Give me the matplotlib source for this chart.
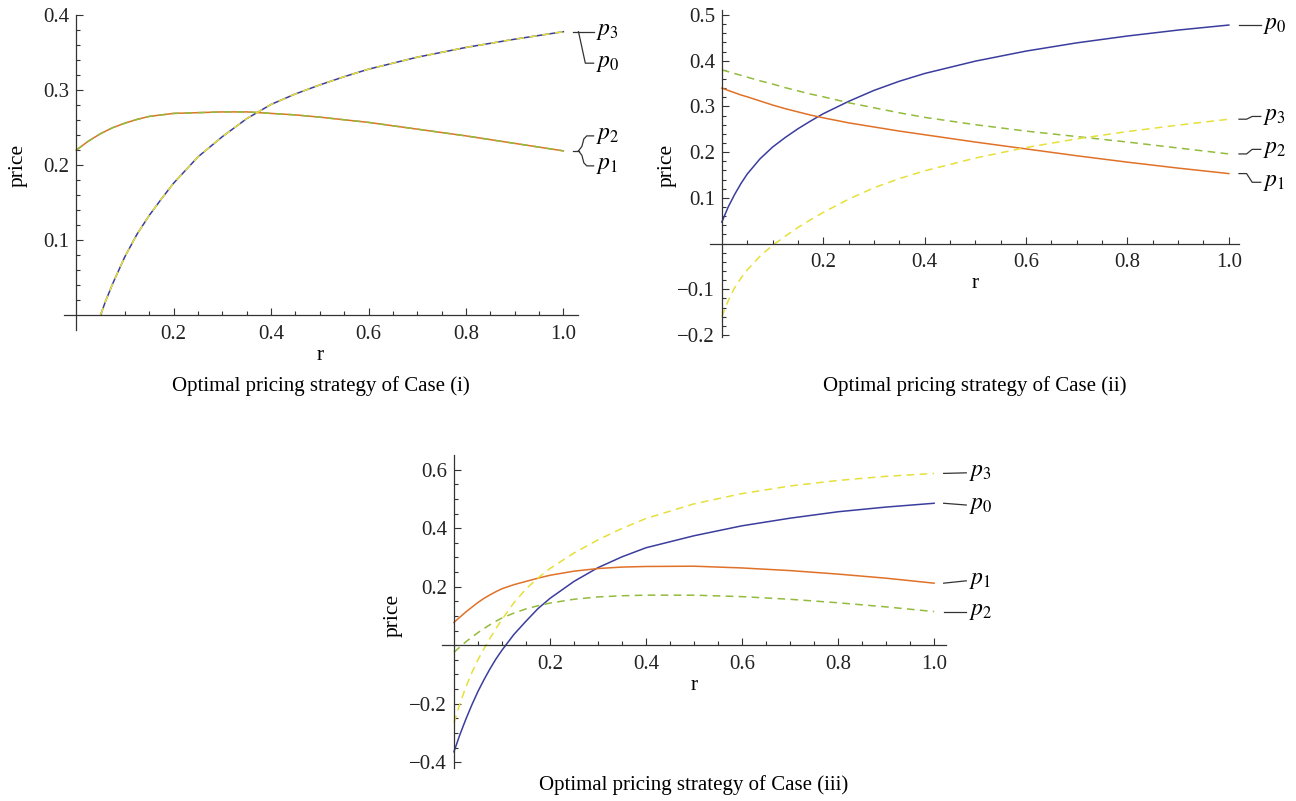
import numpy as np
import matplotlib
matplotlib.use("Agg")
import matplotlib.pyplot as plt

plt.rcParams["font.family"] = ["Liberation Serif", "DejaVu Serif"]
plt.rcParams["mathtext.fontset"] = "stix"

# --- data ---
# Case (i): p0 == p3 and p1 == p2
r1_a = [0.05, 0.06, 0.075, 0.1, 0.125, 0.15, 0.175, 0.2, 0.25, 0.3, 0.35, 0.4,
        0.45, 0.5, 0.55, 0.6, 0.7, 0.8, 0.9, 1.0]
p0_c1 = [0.0, 0.018, 0.042, 0.078, 0.108, 0.133, 0.155, 0.176, 0.211, 0.238, 0.262,
         0.281, 0.295, 0.307, 0.318, 0.328, 0.344, 0.357, 0.368, 0.378]
p3_c1 = list(p0_c1)
r1_b = [0.0, 0.025, 0.05, 0.075, 0.1, 0.125, 0.15, 0.175, 0.2, 0.25, 0.3, 0.35,
        0.4, 0.45, 0.5, 0.6, 0.7, 0.8, 0.9, 1.0]
p1_c1 = [0.22, 0.232, 0.242, 0.250, 0.256, 0.261, 0.265, 0.267, 0.269, 0.270, 0.271,
         0.271, 0.269, 0.267, 0.264, 0.257, 0.248, 0.239, 0.229, 0.219]
p2_c1 = list(p1_c1)

# Case (ii)
r2 = [0.0, 0.0125, 0.025, 0.0375, 0.05, 0.075, 0.1, 0.125, 0.15, 0.175, 0.2, 0.25,
      0.3, 0.35, 0.4, 0.5, 0.6, 0.7, 0.8, 0.9, 1.0]
p0_c2 = [0.047, 0.080, 0.107, 0.131, 0.152, 0.185, 0.211, 0.232, 0.251, 0.268, 0.284,
         0.311, 0.335, 0.355, 0.372, 0.399, 0.421, 0.439, 0.454, 0.467, 0.478]
p1_c2 = [0.340, 0.335, 0.330, 0.325, 0.321, 0.312, 0.303, 0.295, 0.288, 0.281, 0.275,
         0.264, 0.255, 0.246, 0.238, 0.222, 0.207, 0.192, 0.178, 0.165, 0.153]
p2_c2 = [0.380, 0.376, 0.372, 0.368, 0.364, 0.356, 0.349, 0.341, 0.334, 0.327, 0.321,
         0.308, 0.297, 0.286, 0.276, 0.260, 0.246, 0.234, 0.222, 0.209, 0.196]
p3_c2 = [-0.160, -0.125, -0.097, -0.076, -0.058, -0.028, -0.004, 0.016, 0.035, 0.052,
         0.068, 0.097, 0.122, 0.142, 0.159, 0.187, 0.210, 0.229, 0.245, 0.259, 0.272]

# Case (iii)
r3 = [0.0, 0.0125, 0.025, 0.0375, 0.05, 0.0625, 0.075, 0.0875, 0.1, 0.125, 0.15,
      0.175, 0.2, 0.25, 0.3, 0.35, 0.4, 0.5, 0.6, 0.7, 0.8, 0.9, 1.0]
p0_c3 = [-0.364, -0.305, -0.252, -0.203, -0.158, -0.118, -0.081, -0.047, -0.017,
         0.037, 0.082, 0.125, 0.160, 0.218, 0.265, 0.302, 0.333, 0.374, 0.408, 0.434,
         0.456, 0.472, 0.485]
p1_c3 = [0.078, 0.096, 0.114, 0.130, 0.146, 0.160, 0.172, 0.183, 0.193, 0.207, 0.218,
         0.229, 0.239, 0.253, 0.262, 0.267, 0.269, 0.270, 0.264, 0.255, 0.243, 0.229,
         0.212]
p2_c3 = [-0.024, -0.006, 0.012, 0.028, 0.043, 0.057, 0.070, 0.082, 0.093, 0.110, 0.124,
         0.135, 0.144, 0.157, 0.165, 0.169, 0.171, 0.171, 0.166, 0.157, 0.145, 0.131,
         0.115]
p3_c3 = [-0.265, -0.200, -0.142, -0.093, -0.050, -0.012, 0.023, 0.057, 0.088, 0.145,
         0.192, 0.230, 0.262, 0.315, 0.360, 0.399, 0.433, 0.483, 0.518, 0.544, 0.563,
         0.577, 0.587]

captions = ["Optimal pricing strategy of Case (i)",
            "Optimal pricing strategy of Case (ii)",
            "Optimal pricing strategy of Case (iii)"]

BLUE = "#3b3d9e"
ORANGE = "#e07128"
GREEN = "#93bb3c"
YELLOW = "#e6e03a"
AXC = "#333333"
DASH = (5, 3.5)


def setup(ax, xlim, ylim, yticks, yminor):
    ax.set_xlim(*xlim)
    ax.set_ylim(*ylim)
    for s in ("top", "right"):
        ax.spines[s].set_visible(False)
    ax.spines["left"].set_position(("data", 0))
    ax.spines["bottom"].set_position(("data", 0))
    for s in ("left", "bottom"):
        ax.spines[s].set_color(AXC)
        ax.spines[s].set_linewidth(0.9)
    ax.set_xticks([0.2, 0.4, 0.6, 0.8, 1.0])
    ax.set_xticklabels(["0.2", "0.4", "0.6", "0.8", "1.0"])
    ax.set_xticks([x for x in np.arange(0.05, 1.001, 0.05)], minor=True)
    ax.set_yticks(yticks)
    ax.set_yticklabels([f"{t:.1f}".replace("-", "\u2212") for t in yticks])
    ax.set_yticks(yminor, minor=True)
    ax.tick_params(which="both", direction="in", color=AXC, width=0.8,
                   labelsize=15, labelcolor="#222222")
    ax.tick_params(which="major", length=5)
    ax.tick_params(which="minor", length=3)
    ax.tick_params(axis="x", pad=7)
    ax.tick_params(axis="y", pad=5)
    ax.set_ylabel("price", fontsize=15.5)
    ax.annotate("r", xy=(0.5, 0), xytext=(0, -29), textcoords="offset points",
                ha="center", va="center", fontsize=15.5)


def leader(ax, xs, ys):
    ax.plot(xs, ys, color=AXC, lw=0.9, clip_on=False)


def label(ax, x, y, i):
    ax.text(x, y, f"$p_{i}$", fontsize=17, ha="left", va="center", clip_on=False)


fig = plt.figure(figsize=(12.96, 8.01), dpi=100)

# ---- Case (i) ----
ax1 = fig.add_axes([0.0494, 0.588, 0.3966, 0.393])
ax1.plot(r1_a, p0_c1, color=BLUE, lw=1.1)
ax1.plot(r1_b, p1_c1, color=ORANGE, lw=1.1)
ax1.plot(r1_b, p2_c1, color=GREEN, lw=1.1, dashes=DASH)
ax1.plot(r1_a, p3_c1, color=YELLOW, lw=1.1, dashes=DASH)
setup(ax1, (-0.025, 1.03), (-0.02, 0.4), [0.1, 0.2, 0.3, 0.4],
      np.arange(0.02, 0.4, 0.02))
ax1.yaxis.set_label_coords(-0.070, 0.524)
top, low = p3_c1[-1], p1_c1[-1]
leader(ax1, [1.02, 1.062], [top, top])
leader(ax1, [1.031, 1.045, 1.062], [top, top - 0.042, top - 0.042])
label(ax1, 1.066, top, 3)
label(ax1, 1.066, top - 0.042, 0)
leader(ax1, [1.02, 1.031], [low, low])
leader(ax1, [1.031, 1.038, 1.042, 1.048, 1.062],
       [low, low + 0.006, low + 0.016, low + 0.02, low + 0.02])
leader(ax1, [1.031, 1.038, 1.042, 1.048, 1.062],
       [low, low - 0.006, low - 0.016, low - 0.02, low - 0.02])
label(ax1, 1.066, low + 0.02, 2)
label(ax1, 1.066, low - 0.02, 1)

# ---- Case (ii) ----
ax2 = fig.add_axes([0.548, 0.579, 0.408, 0.408])
ax2.plot(r2, p0_c2, color=BLUE, lw=1.1)
ax2.plot(r2, p1_c2, color=ORANGE, lw=1.1)
ax2.plot(r2, p2_c2, color=GREEN, lw=1.1, dashes=DASH)
ax2.plot(r2, p3_c2, color=YELLOW, lw=1.1, dashes=DASH)
setup(ax2, (-0.023, 1.02), (-0.205, 0.51), [-0.2, -0.1, 0.1, 0.2, 0.3, 0.4, 0.5],
      np.arange(-0.2, 0.51, 0.02))
ax2.yaxis.set_label_coords(-0.064, 0.526)
ends2 = [p0_c2[-1], p3_c2[-1], p2_c2[-1], p1_c2[-1]]
offs2 = [0.0, 0.006, 0.010, -0.019]
for idx, e, o in zip([0, 3, 2, 1], ends2, offs2):
    leader(ax2, [1.02, 1.035, 1.046, 1.063], [e, e, e + o, e + o])
    label(ax2, 1.067, e + o, idx)

# ---- Case (iii) ----
ax3 = fig.add_axes([0.341, 0.041, 0.389, 0.391])
ax3.plot(r3, p0_c3, color=BLUE, lw=1.1)
ax3.plot(r3, p1_c3, color=ORANGE, lw=1.1)
ax3.plot(r3, p2_c3, color=GREEN, lw=1.1, dashes=DASH)
ax3.plot(r3, p3_c3, color=YELLOW, lw=1.1, dashes=DASH)
setup(ax3, (-0.025, 1.025), (-0.42, 0.65), [-0.4, -0.2, 0.2, 0.4, 0.6],
      np.arange(-0.4, 0.65, 0.05))
ax3.yaxis.set_label_coords(-0.077, 0.489)
ends3 = [p3_c3[-1], p0_c3[-1], p1_c3[-1], p2_c3[-1]]
offs3 = [0.002, -0.006, 0.008, 0.0]
for idx, e, o in zip([3, 0, 1, 2], ends3, offs3):
    leader(ax3, [1.02, 1.067], [e, e + o])
    label(ax3, 1.073, e + o, idx)

fig.text(0.2477, 0.518, captions[0], ha="center", va="center", fontsize=15)
fig.text(0.752, 0.518, captions[1], ha="center", va="center", fontsize=15)
fig.text(0.5355, 0.02, captions[2], ha="center", va="center", fontsize=15)

fig.savefig("out.png", dpi=100)
